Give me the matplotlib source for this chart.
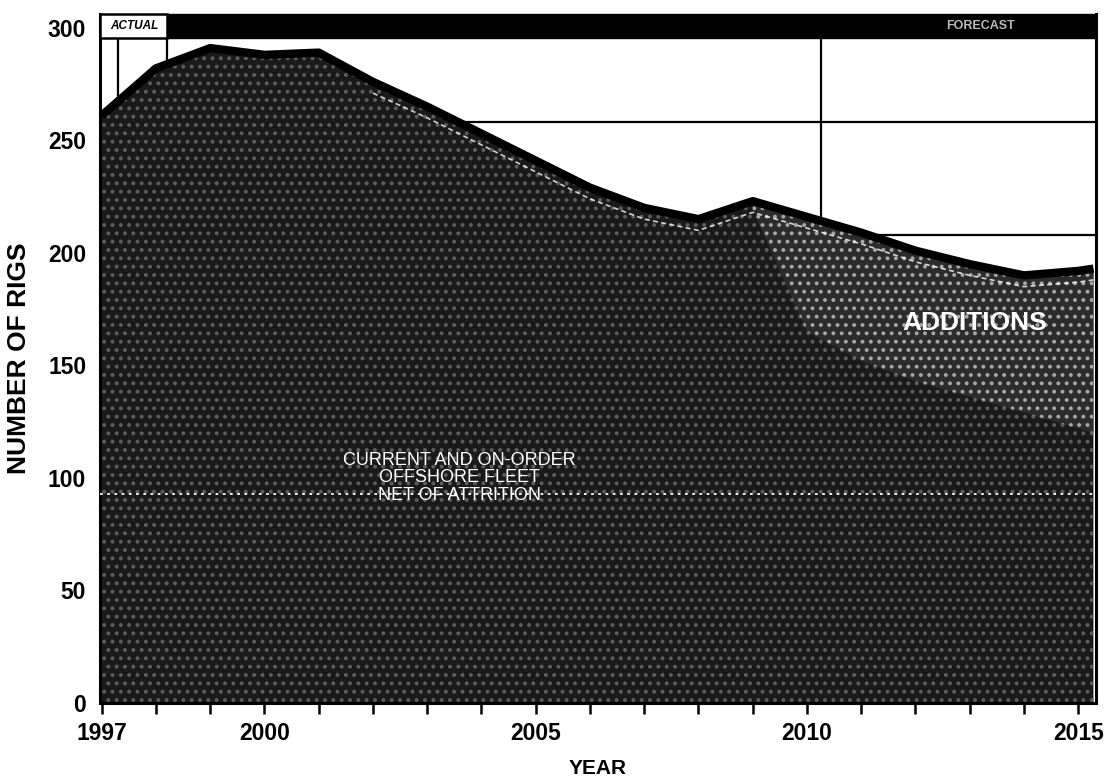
"""Offshore rig fleet outlook, 1997-2015 -> out.png"""

import matplotlib

matplotlib.use("Agg")
import matplotlib.pyplot as plt
from matplotlib.patches import Rectangle

plt.rcParams["font.family"] = ["Liberation Sans", "DejaVu Sans"]
plt.rcParams["hatch.linewidth"] = 1.6

# --- data ------------------------------------------------------------------
years = [1997, 1998, 1999, 2000, 2001, 2002, 2003, 2004, 2005, 2006,
         2007, 2008, 2009, 2010, 2011, 2012, 2013, 2014, 2015, 2015.28]
total_rigs = [261, 282, 291, 288, 289, 276, 265, 253, 241, 229,
              220, 215, 223, 216, 209, 201, 195, 190, 192, 193]
# current + on-order fleet net of attrition (below the "additions" band)
fleet_years = [2009, 2010, 2011, 2012, 2013, 2014, 2015, 2015.28]
fleet_rigs = [219, 165, 152, 143, 136, 129, 122, 120]

xtick_years = list(range(1997, 2016))
xtick_labels = ["1997", "", "", "2000", "", "", "", "", "2005", "", "", "",
                "", "2010", "", "", "", "", "2015"]
yticks = [0, 50, 100, 150, 200, 250, 300]
grid_levels = [258, 208]      # faint rules only visible above the area
dotted_level = 93             # white dotted rule across the fill
divider_years = [1997.3, 1998.2, 2010.25]

fig = plt.figure(figsize=(11.08, 7.79), dpi=100)
ax = fig.add_axes([0.0903, 0.0976, 0.899, 0.884])

# --- background rules -------------------------------------------------------
for lv in grid_levels:
    ax.axhline(lv, color="black", lw=1.6, zorder=1)
for xv in divider_years:
    ax.axvline(xv, color="black", lw=1.6, zorder=1)

# --- areas ------------------------------------------------------------------
ax.fill_between(years, 0, total_rigs, facecolor="#1a1a1a", edgecolor="#5e5e5e",
                hatch="..", lw=0, zorder=2)
top_fleet = [min(t, f) for t, f in zip(total_rigs[-len(fleet_years):], fleet_rigs)]
ax.fill_between(fleet_years, top_fleet, total_rigs[-len(fleet_years):],
                facecolor="#2c2c2c", edgecolor="#a8a8a8", hatch="..", lw=0, zorder=3)
ax.plot(years, total_rigs, color="black", lw=6, solid_capstyle="butt", zorder=5)
ax.plot(years[5:], [v - 5 for v in total_rigs[5:]], color="white", lw=1.2,
        ls=(0, (3, 2)), alpha=0.8, zorder=4)
ax.axhline(dotted_level, color="white", lw=1.3, ls=(0, (1.5, 2.5)), zorder=4)

# --- top banner ------------------------------------------------------------
ax.add_patch(Rectangle((1998.2, 295.5), 2015.33 - 1998.2, 10.5, facecolor="black",
                       edgecolor="black", zorder=6, clip_on=False))
ax.add_patch(Rectangle((1996.97, 295.5), 1998.2 - 1996.97, 10.5, facecolor="white",
                       edgecolor="black", lw=1.8, zorder=6, clip_on=False))
ax.text(1997.6, 300.8, "ACTUAL", ha="center", va="center", fontsize=8.5,
        fontweight="bold", style="italic", zorder=7)
ax.text(2013.2, 300.8, "FORECAST", ha="center", va="center", fontsize=9,
        fontweight="bold", color="#bbbbbb", zorder=7)

# --- in-chart labels -------------------------------------------------------
ax.text(2003.6, 100, "CURRENT AND ON-ORDER\nOFFSHORE FLEET\nNET OF ATTRITION",
        ha="center", va="center", color="white", fontsize=13, linespacing=1.05,
        zorder=8)
ax.text(2013.1, 169, "ADDITIONS", ha="center", va="center", color="white",
        fontsize=19, fontweight="bold", zorder=8)

# --- axes styling ----------------------------------------------------------
ax.set_xlim(1996.97, 2015.33)
ax.set_ylim(0, 306)
ax.set_xticks(xtick_years)
ax.set_xticklabels(xtick_labels)
ax.set_yticks(yticks)
ax.tick_params(axis="x", direction="out", length=8, width=1.8, labelsize=16.5, pad=6)
ax.tick_params(axis="y", length=0, labelsize=16.5, pad=10)
for lab in ax.get_xticklabels() + ax.get_yticklabels():
    lab.set_fontweight("bold")
for side in ["left", "right", "bottom"]:
    ax.spines[side].set_linewidth(2.2)
ax.spines["top"].set_visible(False)

ax.set_xlabel("YEAR", fontsize=15, fontweight="bold", labelpad=10)
ax.set_ylabel("NUMBER OF RIGS", fontsize=19, fontweight="bold", labelpad=12)

fig.savefig("out.png", dpi=100)
plt.close(fig)
